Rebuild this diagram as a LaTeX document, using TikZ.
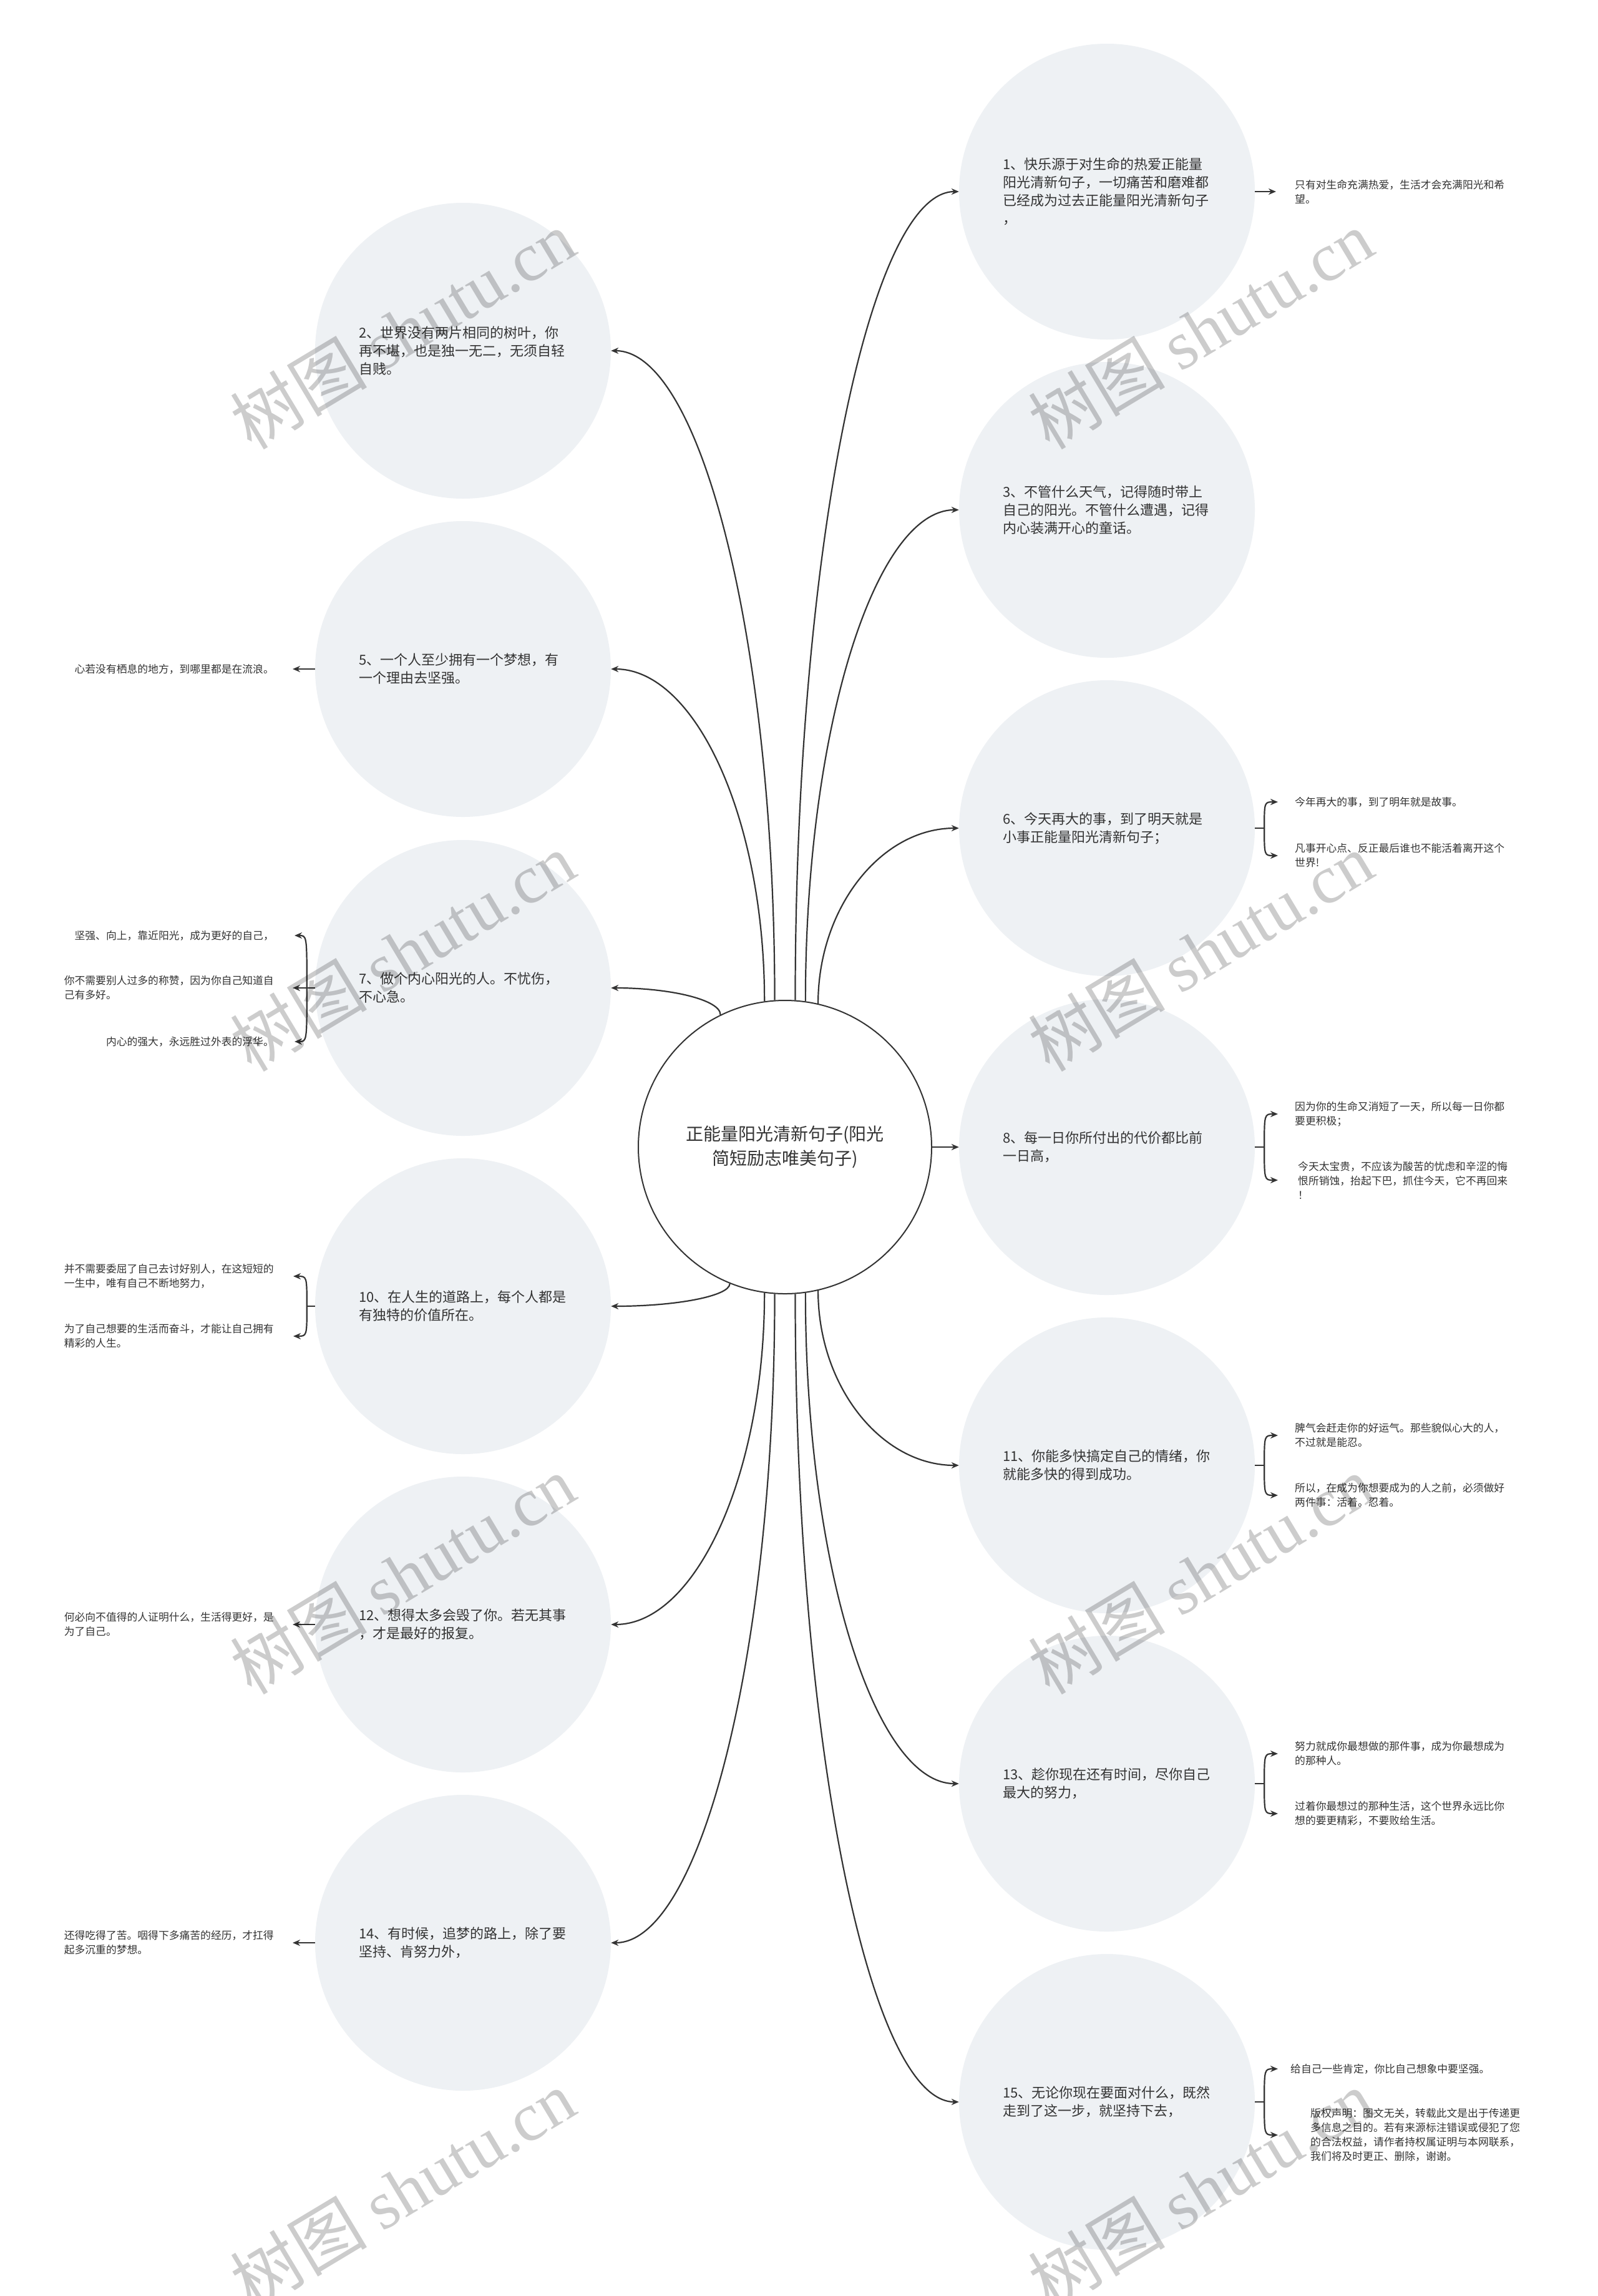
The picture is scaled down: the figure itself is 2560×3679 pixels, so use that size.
\documentclass[tikz,border=0pt]{standalone}
\usepackage{fontspec}
\setmainfont{Noto Sans CJK SC}
\newfontfamily\wmserif{Liberation Serif}
\usetikzlibrary{arrows.meta,calc}
\definecolor{cfill}{HTML}{EEF1F4}
\definecolor{linec}{HTML}{333333}
\definecolor{tc}{HTML}{333333}
\tikzset{
  hub/.style={circle, draw=linec, line width=2pt, fill=white, minimum size=470pt, inner sep=0pt, align=center, text=tc, font=\fontsize{28}{39}\selectfont},
  topic/.style={circle, fill=cfill, minimum size=474pt, inner sep=0pt},
  ttext/.style={anchor=west, align=left, inner sep=0pt, text=tc, font=\fontsize{22}{29}\selectfont},
  rleaf/.style={anchor=west, align=left, inner sep=0pt, text=tc, font=\fontsize{16.8}{23}\selectfont},
  lleaf/.style={anchor=east, align=left, inner sep=0pt, text=tc, font=\fontsize{16.8}{23}\selectfont},
  conn/.style={draw=linec, line width=2.2pt, -{Stealth[length=12pt,width=10pt]}},
  plain/.style={draw=linec, line width=2.2pt},
  hubcurve/.style={to path={.. controls ($(\tikztostart)!0.55!(\tikztostart |- \tikztotarget)$) and ($(\tikztostart |- \tikztotarget)!0.45!(\tikztotarget)$) .. (\tikztotarget) \tikztonodes}},
  wm/.style={text=black, opacity=0.2, rotate=31, font=\fontsize{110}{120}\selectfont, inner sep=0pt}
}
\begin{document}
\begin{tikzpicture}[x=1pt,y=-1pt]
\useasboundingbox[fill=white] (0,0) rectangle (2560,3679);
% hub
\node[hub] (hub) at (1258,1838) {正能量阳光清新句子(阳光\\简短励志唯美句子)};
% right topics
\node[topic] (r1) at (1774,307) {};
\node[topic] (r3) at (1774,817) {};
\node[topic] (r6) at (1774,1327) {};
\node[topic] (r8) at (1774,1838) {};
\node[topic] (r11) at (1774,2348) {};
\node[topic] (r13) at (1774,2858) {};
\node[topic] (r15) at (1774,3368) {};
% left topics
\node[topic] (l2) at (742,562) {};
\node[topic] (l5) at (742,1072) {};
\node[topic] (l7) at (742,1583) {};
\node[topic] (l10) at (742,2093) {};
\node[topic] (l12) at (742,2603) {};
\node[topic] (l14) at (742,3113) {};
% topic texts
\node[ttext] (t1) at ([xshift=-167pt]r1.center) {1、快乐源于对生命的热爱正能量\\阳光清新句子，一切痛苦和磨难都\\已经成为过去正能量阳光清新句子\\，};
\node[ttext] (t3) at ([xshift=-167pt]r3.center) {3、不管什么天气，记得随时带上\\自己的阳光。不管什么遭遇，记得\\内心装满开心的童话。};
\node[ttext] (t6) at ([xshift=-167pt]r6.center) {6、今天再大的事，到了明天就是\\小事正能量阳光清新句子；};
\node[ttext] (t8) at ([xshift=-167pt]r8.center) {8、每一日你所付出的代价都比前\\一日高，};
\node[ttext] (t11) at ([xshift=-167pt]r11.center) {11、你能多快搞定自己的情绪，你\\就能多快的得到成功。};
\node[ttext] (t13) at ([xshift=-167pt]r13.center) {13、趁你现在还有时间，尽你自己\\最大的努力，};
\node[ttext] (t15) at ([xshift=-167pt]r15.center) {15、无论你现在要面对什么，既然\\走到了这一步，就坚持下去，};
\node[ttext] (t2) at ([xshift=-167pt]l2.center) {2、世界没有两片相同的树叶，你\\再不堪，也是独一无二，无须自轻\\自贱。};
\node[ttext] (t5) at ([xshift=-167pt]l5.center) {5、一个人至少拥有一个梦想，有\\一个理由去坚强。};
\node[ttext] (t7) at ([xshift=-167pt]l7.center) {7、做个内心阳光的人。不忧伤，\\不心急。};
\node[ttext] (t10) at ([xshift=-167pt]l10.center) {10、在人生的道路上，每个人都是\\有独特的价值所在。};
\node[ttext] (t12) at ([xshift=-167pt]l12.center) {12、想得太多会毁了你。若无其事\\，才是最好的报复。};
\node[ttext] (t14) at ([xshift=-167pt]l14.center) {14、有时候，追梦的路上，除了要\\坚持、肯努力外，};
% hub connectors
\draw[conn] (hub.86) to[hubcurve] (r1.west);
\draw[conn] (hub.82) to[hubcurve] (r3.west);
\draw[conn] (hub.77) to[hubcurve] (r6.west);
\draw[conn] (hub.east) -- (r8.west);
\draw[conn] (hub.-77) to[hubcurve] (r11.west);
\draw[conn] (hub.-82) to[hubcurve] (r13.west);
\draw[conn] (hub.-86) to[hubcurve] (r15.west);
\draw[conn] (hub.94) to[hubcurve] (l2.east);
\draw[conn] (hub.98) to[hubcurve] (l5.east);
\draw[conn] (hub.116) to[hubcurve] (l7.east);
\draw[conn] (hub.-112) to[hubcurve] (l10.east);
\draw[conn] (hub.-98) to[hubcurve] (l12.east);
\draw[conn] (hub.-94) to[hubcurve] (l14.east);
% leaves right
\node[rleaf] (f1) at (2075,307) {只有对生命充满热爱，生活才会充满阳光和希\\望。};
\node[rleaf] (f6a) at (2075,1285) {今年再大的事，到了明年就是故事。};
\node[rleaf] (f6b) at (2075,1371) {凡事开心点、反正最后谁也不能活着离开这个\\世界!};
\node[rleaf] (f8a) at (2075,1785) {因为你的生命又消短了一天，所以每一日你都\\要更积极；};
\node[rleaf] (f8b) at (2080,1891) {今天太宝贵，不应该为酸苦的忧虑和辛涩的悔\\恨所销蚀，抬起下巴，抓住今天，它不再回来\\！};
\node[rleaf] (f11a) at (2075,2300) {脾气会赶走你的好运气。那些貌似心大的人，\\不过就是能忍。};
\node[rleaf] (f11b) at (2075,2396) {所以，在成为你想要成为的人之前，必须做好\\两件事：活着。忍着。};
\node[rleaf] (f13a) at (2075,2810) {努力就成你最想做的那件事，成为你最想成为\\的那种人。};
\node[rleaf] (f13b) at (2075,2906) {过着你最想过的那种生活，这个世界永远比你\\想的要更精彩，不要败给生活。};
\node[rleaf] (f15a) at (2068,3315) {给自己一些肯定，你比自己想象中要坚强。};
\node[rleaf] (f15b) at (2100,3421) {版权声明：图文无关，转载此文是出于传递更\\多信息之目的。若有来源标注错误或侵犯了您\\的合法权益，请作者持权属证明与本网联系，\\我们将及时更正、删除，谢谢。};
% leaves left
\node[lleaf] (f5) at (439,1072) {心若没有栖息的地方，到哪里都是在流浪。};
\node[lleaf] (f7a) at (439,1499) {坚强、向上，靠近阳光，成为更好的自己，};
\node[lleaf] (f7b) at (439,1583) {你不需要别人过多的称赞，因为你自己知道自\\己有多好。};
\node[lleaf] (f7c) at (439,1669) {内心的强大，永远胜过外表的浮华。};
\node[lleaf] (f10a) at (439,2045) {并不需要委屈了自己去讨好别人，在这短短的\\一生中，唯有自己不断地努力，};
\node[lleaf] (f10b) at (439,2141) {为了自己想要的生活而奋斗，才能让自己拥有\\精彩的人生。};
\node[lleaf] (f12) at (439,2603) {何必向不值得的人证明什么，生活得更好，是\\为了自己。};
\node[lleaf] (f14) at (439,3113) {还得吃得了苦。咽得下多痛苦的经历，才扛得\\起多沉重的梦想。};
% single leaf arrows
\draw[conn] (r1.east) -- ([xshift=-30pt]f1.west |- r1.east);
\draw[conn] (l5.west) -- ([xshift=30pt]f5.east);
\draw[conn] (l12.west) -- ([xshift=30pt]f12.east |- l12.west);
\draw[conn] (l14.west) -- ([xshift=30pt]f14.east |- l14.west);
% right braces
\coordinate (j6) at ([xshift=15pt]r6.east);
\draw[plain] (r6.east) -- (j6);
\draw[conn] (j6) .. controls (j6 |- f6a.west) .. ([xshift=-27pt]f6a.west);
\draw[conn] (j6) .. controls (j6 |- f6b.west) .. ([xshift=-27pt]f6b.west);
\coordinate (j8) at ([xshift=15pt]r8.east);
\draw[plain] (r8.east) -- (j8);
\draw[conn] (j8) .. controls (j8 |- f8a.west) .. ([xshift=-27pt]f8a.west);
\draw[conn] (j8) .. controls (j8 |- f8b.west) .. ([xshift=-32pt]f8b.west);
\coordinate (j11) at ([xshift=15pt]r11.east);
\draw[plain] (r11.east) -- (j11);
\draw[conn] (j11) .. controls (j11 |- f11a.west) .. ([xshift=-27pt]f11a.west);
\draw[conn] (j11) .. controls (j11 |- f11b.west) .. ([xshift=-27pt]f11b.west);
\coordinate (j13) at ([xshift=15pt]r13.east);
\draw[plain] (r13.east) -- (j13);
\draw[conn] (j13) .. controls (j13 |- f13a.west) .. ([xshift=-27pt]f13a.west);
\draw[conn] (j13) .. controls (j13 |- f13b.west) .. ([xshift=-27pt]f13b.west);
\coordinate (j15) at ([xshift=15pt]r15.east);
\draw[plain] (r15.east) -- (j15);
\draw[conn] (j15) .. controls (j15 |- f15a.west) .. ([xshift=-20pt]f15a.west);
\draw[conn] (j15) .. controls (j15 |- f15b.west) .. ([xshift=-52pt]f15b.west);
% left braces
\coordinate (j7) at ([xshift=-13pt]l7.west);
\draw[conn] (l7.west) -- ([xshift=30pt]f7b.east);
\draw[conn] (j7) .. controls (j7 |- f7a.east) .. ([xshift=33pt]f7a.east);
\draw[conn] (j7) .. controls (j7 |- f7c.east) .. ([xshift=33pt]f7c.east);
\coordinate (j10) at ([xshift=-13pt]l10.west);
\draw[plain] (l10.west) -- (j10);
\draw[conn] (j10) .. controls (j10 |- f10a.east) .. ([xshift=31pt]f10a.east);
\draw[conn] (j10) .. controls (j10 |- f10b.east) .. ([xshift=31pt]f10b.east);
% watermarks
\node[wm] (w1) at (645,528) {树图 {\wmserif shutu.cn}};
\node[wm] (w2) at (1924,528) {树图 {\wmserif shutu.cn}};
\node[wm] (w3) at (645,1525) {树图 {\wmserif shutu.cn}};
\node[wm] (w4) at (1924,1525) {树图 {\wmserif shutu.cn}};
\node[wm] (w5) at (645,2523) {树图 {\wmserif shutu.cn}};
\node[wm] (w6) at (1924,2523) {树图 {\wmserif shutu.cn}};
\node[wm] (w7) at (645,3508) {树图 {\wmserif shutu.cn}};
\node[wm] (w8) at (1924,3508) {树图 {\wmserif shutu.cn}};
\end{tikzpicture}
\end{document}
